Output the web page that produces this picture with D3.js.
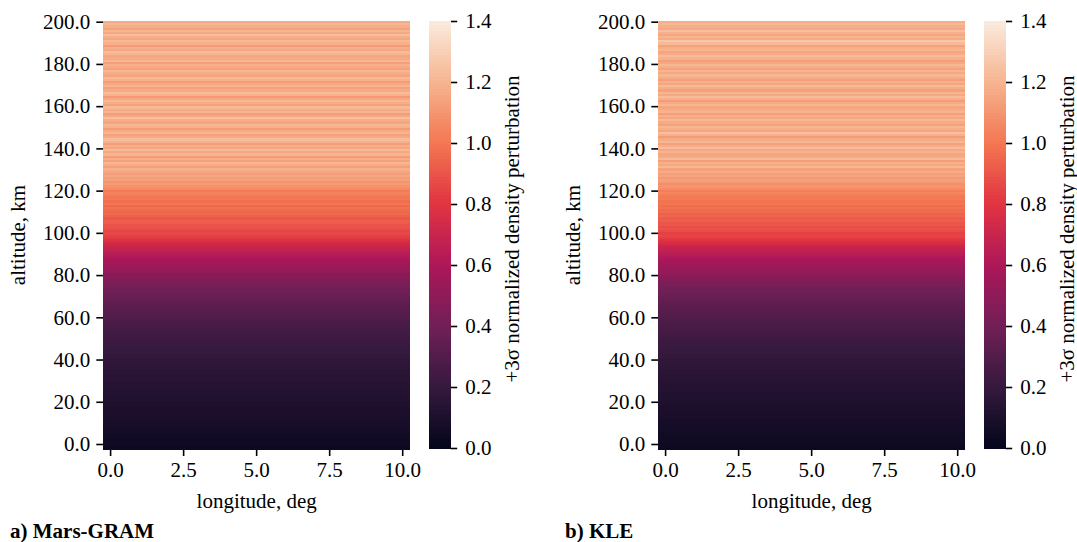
<!DOCTYPE html>
<html>
<head>
<meta charset="utf-8">
<script src="https://cdn.jsdelivr.net/npm/d3@7"></script>
</head>
<body style="margin:0">
<svg id="chart" width="1077" height="542"></svg>
<script>
// Longitude columns (deg) and altitude rows (km)
const longitudes = [0, 0.5, 1, 1.5, 2, 2.5, 3, 3.5, 4, 4.5, 5, 5.5, 6, 6.5, 7, 7.5, 8, 8.5, 9, 9.5, 10];
const altitudes = d3.range(0, 201);

const xTicks = [0, 2.5, 5, 7.5, 10];
const yTicks = [0, 20, 40, 60, 80, 100, 120, 140, 160, 180, 200];
const cbTicks = [0, 0.2, 0.4, 0.6, 0.8, 1.0, 1.2, 1.4];

// +3σ normalized density perturbation per altitude (0..200 km, 1 km step)
const marsGram = [
  0.04,0.04,0.05,0.05,0.05,0.06,0.06,0.06,0.07,0.07,
  0.07,0.08,0.08,0.08,0.09,0.09,0.09,0.10,0.10,0.10,
  0.11,0.11,0.11,0.12,0.12,0.12,0.13,0.13,0.13,0.14,
  0.14,0.14,0.15,0.15,0.15,0.16,0.16,0.16,0.17,0.17,
  0.17,0.18,0.18,0.19,0.19,0.20,0.20,0.21,0.21,0.22,
  0.22,0.23,0.23,0.24,0.24,0.25,0.25,0.26,0.27,0.27,
  0.28,0.29,0.29,0.30,0.31,0.32,0.33,0.33,0.34,0.35,
  0.36,0.37,0.38,0.39,0.40,0.41,0.42,0.43,0.44,0.45,
  0.47,0.48,0.49,0.51,0.52,0.54,0.55,0.57,0.58,0.60,
  0.62,0.63,0.65,0.67,0.69,0.71,0.73,0.76,0.79,0.82,
  0.84,0.86,0.85,0.88,0.90,0.89,0.92,0.93,0.91,0.94,
  0.96,0.95,0.97,0.99,0.96,1.00,0.98,1.01,1.00,1.03,
  1.04,1.02,1.06,1.09,1.12,1.10,1.14,1.12,1.16,1.13,
  1.15,1.19,1.13,1.17,1.21,1.14,1.18,1.12,1.20,1.16,
  1.22,1.15,1.18,1.13,1.19,1.23,1.16,1.14,1.20,1.17,
  1.12,1.19,1.21,1.15,1.18,1.24,1.16,1.13,1.20,1.17,
  1.22,1.14,1.18,1.21,1.16,1.11,1.19,1.23,1.17,1.14,
  1.20,1.16,1.12,1.19,1.22,1.15,1.18,1.21,1.14,1.17,
  1.19,1.13,1.21,1.17,1.15,1.20,1.23,1.16,1.18,1.12,
  1.19,1.22,1.15,1.18,1.24,1.16,1.20,1.14,1.18,1.21,
  1.17
];

const kle = [
  0.04,0.04,0.04,0.05,0.05,0.05,0.06,0.06,0.06,0.07,
  0.07,0.07,0.08,0.08,0.08,0.09,0.09,0.09,0.10,0.10,
  0.10,0.11,0.11,0.11,0.12,0.12,0.12,0.13,0.13,0.13,
  0.14,0.14,0.14,0.15,0.15,0.16,0.16,0.16,0.17,0.17,
  0.18,0.18,0.18,0.19,0.19,0.20,0.20,0.21,0.21,0.22,
  0.22,0.23,0.23,0.24,0.25,0.25,0.26,0.26,0.27,0.28,
  0.28,0.29,0.30,0.30,0.31,0.32,0.33,0.34,0.34,0.35,
  0.36,0.37,0.38,0.39,0.40,0.41,0.42,0.43,0.44,0.46,
  0.47,0.48,0.50,0.51,0.52,0.54,0.55,0.57,0.59,0.60,
  0.62,0.64,0.65,0.67,0.69,0.71,0.74,0.77,0.80,0.83,
  0.85,0.84,0.87,0.89,0.88,0.91,0.90,0.93,0.92,0.95,
  0.94,0.97,0.96,0.99,0.97,1.00,0.99,1.02,1.01,1.03,
  1.05,1.03,1.07,1.10,1.08,1.12,1.14,1.11,1.15,1.13,
  1.18,1.14,1.21,1.16,1.19,1.13,1.22,1.17,1.15,1.20,
  1.16,1.23,1.18,1.14,1.21,1.17,1.12,1.19,1.24,1.15,
  1.18,1.21,1.14,1.17,1.22,1.16,1.19,1.13,1.20,1.18,
  1.15,1.21,1.17,1.12,1.19,1.23,1.16,1.20,1.14,1.18,
  1.22,1.15,1.19,1.13,1.17,1.21,1.16,1.20,1.14,1.18,
  1.21,1.16,1.13,1.19,1.23,1.17,1.15,1.20,1.18,1.14,
  1.22,1.27,1.17,1.20,1.15,1.19,1.24,1.16,1.18,1.21,
  1.18
];

// "rocket" colormap anchor colours
const rocketStops = ["#03051a", "#35193e", "#701f57", "#ad1759", "#e13342", "#f37651", "#f6b48f", "#faebdd"];

const rocket = d3.scaleLinear()
  .domain(rocketStops.map((_, i) => i / (rocketStops.length - 1)))
  .range(rocketStops)
  .interpolate(d3.interpolateRgb)
  .clamp(true);
const color = v => rocket(v / 1.4);

const svg = d3.select("#chart");

const panels = [
  { values: marsGram, caption: "a) Mars-GRAM", dx: 0 },
  { values: kle, caption: "b) KLE", dx: 555 }
];

// shared scales (panel offset applied through dx)
const x = d3.scaleBand().domain(longitudes).range([103.3, 410]);
const yRow = d3.scaleBand().domain(altitudes).range([449.5, 20.5]);
const yAxisScale = d3.scaleLinear().domain([0, 200]).range([444, 21.7]);
const cb = d3.scaleLinear().domain([0, 1.4]).range([448, 21]);

// --- text layer first: titles, axis labels, captions ---
panels.forEach(p => {
  svg.append("text").attr("x", p.dx + 256.7).attr("y", 508).attr("text-anchor", "middle")
    .attr("font-family", "Liberation Serif").attr("font-size", 21).text("longitude, deg");
  svg.append("text").attr("transform", `translate(${p.dx + 25},235) rotate(-90)`).attr("text-anchor", "middle")
    .attr("font-family", "Liberation Serif").attr("font-size", 21).text("altitude, km");
  svg.append("text").attr("transform", `translate(${p.dx + 519},229) rotate(-90)`).attr("text-anchor", "middle")
    .attr("font-family", "Liberation Serif").attr("font-size", 21).text("+3σ normalized density perturbation");
  svg.append("text").attr("x", p.dx + 10).attr("y", 538)
    .attr("font-family", "Liberation Serif").attr("font-size", 21).attr("font-weight", "bold").text(p.caption);
});

// --- axes ---
function styleAxis(ax) {
  ax.attr("font-family", "Liberation Serif").attr("font-size", 21);
  ax.select(".domain").remove();
  ax.selectAll(".tick line").attr("stroke", "#000").attr("stroke-width", 1.6);
  ax.selectAll(".tick text").attr("fill", "#000");
}

panels.forEach(p => {
  styleAxis(svg.append("g").attr("transform", `translate(${p.dx},449.5)`)
    .call(d3.axisBottom(x).tickValues(xTicks).tickFormat(d3.format(".1f")).tickSize(6.5).tickPadding(6)));
  styleAxis(svg.append("g").attr("transform", `translate(${p.dx + 103.3},0)`)
    .call(d3.axisLeft(yAxisScale).tickValues(yTicks).tickFormat(d3.format(".1f")).tickSize(7).tickPadding(6)));
  styleAxis(svg.append("g").attr("transform", `translate(${p.dx + 450.7},0)`)
    .call(d3.axisRight(cb).tickValues(cbTicks).tickFormat(d3.format(".1f")).tickSize(6.5).tickPadding(8)));
});

// --- heatmaps and colour bars ---
const xStart = x(longitudes[0]);
const xEnd = x(longitudes[longitudes.length - 1]) + x.bandwidth();
const n = 140;
const cbSteps = d3.range(0, n).map(i => i * 1.4 / n);

panels.forEach(p => {
  const g = svg.append("g").attr("transform", `translate(${p.dx},0)`).attr("shape-rendering", "crispEdges");

  // one strip per altitude row across all longitude columns
  g.append("g")
    .selectAll("rect")
    .data(altitudes.map((a, i) => ({ a, v: p.values[i] })))
    .join("rect")
    .attr("x", xStart)
    .attr("width", xEnd - xStart)
    .attr("y", d => yRow(d.a))
    .attr("height", yRow.bandwidth() + 0.6)
    .attr("fill", d => color(d.v));

  g.append("g")
    .selectAll("rect").data(cbSteps).join("rect")
    .attr("x", 429.3).attr("width", 21.4)
    .attr("y", d => cb(d + 1.4 / n))
    .attr("height", (448 - 21) / n + 0.6)
    .attr("fill", d => color(d + 0.7 / n));
});
</script>
</body>
</html>
